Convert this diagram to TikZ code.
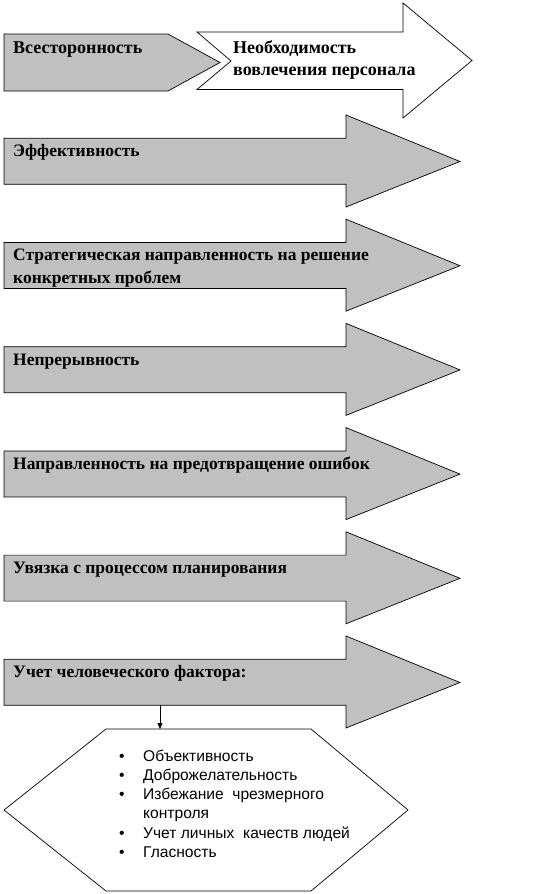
\documentclass[tikz,border=0pt]{standalone}
\usepackage{fontspec}
\setmainfont{Liberation Serif}
\newfontfamily\arialfont{Liberation Sans}
\usetikzlibrary{arrows.meta}
\definecolor{arrowgray}{HTML}{C0C0C0}
\begin{document}
\begin{tikzpicture}[x=1pt,y=-1pt,
  shapeline/.style={draw=black,line width=0.7pt,line join=miter},
  grayshape/.style={shapeline,fill=arrowgray},
  whiteshape/.style={shapeline,fill=white},
  arrowtext/.style={anchor=base west,inner sep=0pt,font=\fontsize{17.5}{22.3}\selectfont\bfseries},
  listtext/.style={anchor=base west,inner sep=0pt,font=\arialfont\fontsize{15.6}{19.3}\selectfont},
  link/.style={draw=black,line width=0.7pt,-{Triangle[width=5pt,length=6pt]}}]
\useasboundingbox (0,0) rectangle (559,894);
% top pentagon
\draw[grayshape] (4,34) -- (168,34) -- (220,62.5) -- (168,91) -- (4,91) -- cycle;
\node[arrowtext,font=\fontsize{18}{22.3}\selectfont\bfseries] (t0) at (13,53) {Всесторонность};
% white notched arrow
\draw[whiteshape] (197,32) -- (403,32) -- (403,3) -- (472,60.5) -- (403,118) -- (403,89.5) -- (197,89.5) -- (231,61) -- cycle;
\node[arrowtext,font=\fontsize{18}{22.3}\selectfont\bfseries] (tw) at (233,53) {\begin{tabular}[t]{@{}l@{}}Необходимость\\вовлечения персонала\end{tabular}};
% gray arrows
\foreach \i/\t in {0/{Эффективность},
  1/{Стратегическая направленность на решение\\конкретных проблем},
  2/{Непрерывность},
  3/{Направленность на предотвращение ошибок},
  4/{Увязка с процессом планирования},
  5/{Учет человеческого фактора:}}{
  \pgfmathsetmacro\bt{138.3+\i*104.2}
  \draw[grayshape] (4,\bt) -- (346,\bt) -- (346,\bt-23.3) -- (460,\bt+23.2)
     -- (346,\bt+68.7) -- (346,\bt+46) -- (4,\bt+46) -- cycle;
  \node[arrowtext] (a\i) at (13,\bt+18.4) {\begin{tabular}[t]{@{}l@{}}\t\end{tabular}};
}
% hexagon
\draw[whiteshape] (106,729) -- (311,729) -- (408,810) -- (311,891) -- (106,891) -- (4,810) -- cycle;
\coordinate (hextop) at (160,729);
\coordinate (a5bottom) at (160,659.3+46);
\draw[link] (a5bottom) -- (hextop);
\node[listtext] (list) at (119,761) {\begin{tabular}[t]{@{}p{24pt}@{}l@{}}
•&Объективность\\
•&Доброжелательность\\
•&Избежание\ \ чрезмерного\\
&контроля\\
•&Учет личных\ \ качеств людей\\
•&Гласность
\end{tabular}};
\end{tikzpicture}
\end{document}
